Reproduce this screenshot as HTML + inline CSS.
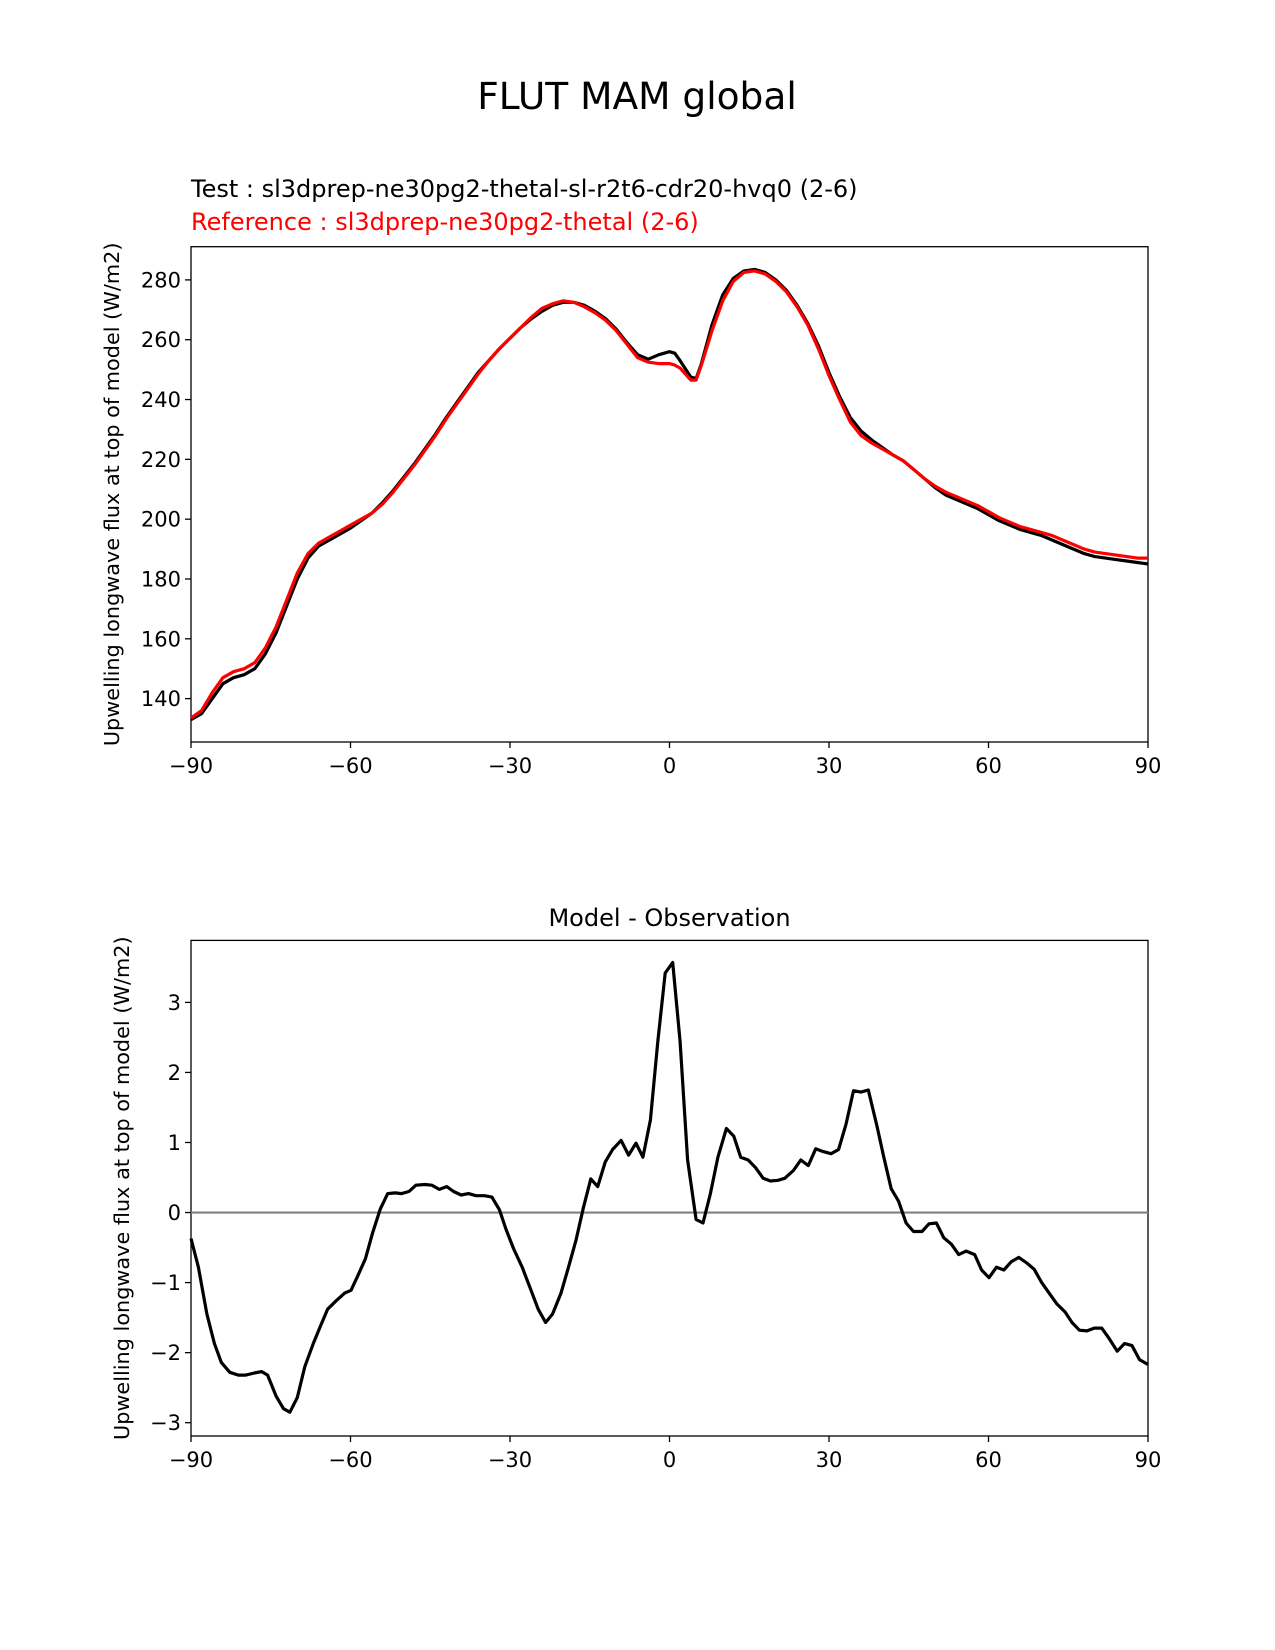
<!DOCTYPE html>
<html><head><meta charset="utf-8"><style>
body{margin:0;background:#fff;}
svg{display:block;font-family:"DejaVu Sans","Liberation Sans",sans-serif;}
</style></head><body>
<svg id="fig" width="1275" height="1650" viewBox="0 0 1275 1650">
<text x="637" y="109" font-size="37.5" text-anchor="middle">FLUT MAM global</text>
<text x="191" y="197" font-size="24">Test : sl3dprep-ne30pg2-thetal-sl-r2t6-cdr20-hvq0 (2-6)</text>
<text x="191" y="230" font-size="24" fill="#ff0000">Reference : sl3dprep-ne30pg2-thetal (2-6)</text>
<text x="669.5" y="926" font-size="24" text-anchor="middle">Model - Observation</text>
<g id="top"></g>
<g id="bot"></g>
</svg>
<script>
const lonT=[-90,-88,-86,-84,-82,-80,-78,-76,-74,-72,-70,-68,-66,-64,-62,-60,-58,-56,-54,-52,-50,-48,-46,-44,-42,-40,-38,-36,-34,-32,-30,-28,-26,-24,-22,-20,-18,-16,-14,-12,-10,-8,-6,-4,-2,0,1,2,4,5,6,8,10,12,14,16,18,20,22,24,26,28,30,32,34,36,38,40,42,44,46,48,50,52,54,56,58,60,62,64,66,68,70,72,74,76,78,80,82,84,86,88,90];
const testVals=[133,135,140,145,147,148,150,155,162,171,180,187,191,193,195,197,199.5,202,205.5,209.5,214,218.5,223.5,228.5,234,239,244,249,253,257,260.5,264,267,269.5,271.5,272.5,272.5,271.5,269.5,267,263.5,259,255,253.5,255,256,255.5,253,247.5,247,252,265,275,280.5,283,283.5,282.5,280,276.5,271.5,265.5,258,249,241,234,229.5,226.5,224,221.5,219.5,216.5,213.5,210.5,208,206.5,205,203.5,201.5,199.5,198,196.5,195.5,194.5,193,191.5,190,188.5,187.5,187,186.5,186,185.5,185];
const refVals=[133.5,136,142,147,149,150,152,157,164,173,182,188.5,192,194,196,198,200,202,205,209,213.5,218,223,228,233.5,238.5,243.5,248.5,253,257,260.5,264,267.5,270.5,272,273,272.5,271,269,266.5,263,258.5,254,252.5,252,252,251.5,250.5,246.5,246.5,251.5,263,273,279.5,282.5,283,282,279.5,276,271,265,257,248,240,232.5,228,225.5,223.5,221.5,219.5,216.5,213.5,211,209,207.5,206,204.5,202.5,200.5,199,197.5,196.5,195.5,194.5,193,191.5,190,189,188.5,188,187.5,187,187];
const lonD=[-90,-88.6,-87,-85.6,-84.3,-82.7,-81.1,-79.7,-78.1,-76.7,-75.6,-74,-72.6,-71.4,-70,-68.6,-67,-65.7,-64.3,-62.7,-61.1,-59.9,-58.6,-57.2,-55.8,-54.4,-53,-51.6,-50.4,-49,-47.7,-46,-44.7,-43.3,-41.9,-40.6,-39.2,-37.8,-36.4,-34.8,-33.4,-32,-30.7,-29.3,-27.7,-26.3,-24.7,-23.3,-22,-20.4,-19,-17.6,-16.2,-14.8,-13.5,-12.1,-10.7,-9.1,-7.7,-6.3,-5,-3.6,-2.2,-0.8,0.6,2,3.4,5,6.3,7.7,9.1,10.7,12.1,13.4,14.8,16.2,17.6,19,20.4,21.7,23.3,24.7,26.1,27.5,28.9,30.4,31.8,33.2,34.6,36,37.4,39,40.3,41.7,43.1,44.5,45.9,47.5,48.8,50.2,51.6,53,54.4,55.8,57.4,58.7,60.1,61.5,62.9,64.3,65.7,67.2,68.6,70,71.4,72.8,74.4,75.7,77.1,78.5,79.9,81.3,82.7,84.2,85.6,87,88.4,90];
const diffVals=[-0.37,-0.78,-1.45,-1.87,-2.14,-2.28,-2.32,-2.32,-2.29,-2.27,-2.32,-2.62,-2.8,-2.85,-2.64,-2.2,-1.87,-1.63,-1.38,-1.26,-1.15,-1.11,-0.9,-0.66,-0.28,0.05,0.27,0.28,0.27,0.3,0.39,0.4,0.39,0.33,0.37,0.3,0.25,0.27,0.24,0.24,0.22,0.04,-0.25,-0.52,-0.78,-1.06,-1.38,-1.57,-1.45,-1.15,-0.78,-0.4,0.07,0.48,0.37,0.72,0.9,1.03,0.82,0.99,0.79,1.32,2.44,3.42,3.57,2.44,0.75,-0.1,-0.15,0.27,0.79,1.2,1.09,0.79,0.75,0.64,0.49,0.45,0.46,0.49,0.6,0.75,0.67,0.91,0.87,0.84,0.9,1.26,1.74,1.72,1.75,1.24,0.79,0.34,0.16,-0.15,-0.27,-0.27,-0.16,-0.15,-0.36,-0.45,-0.6,-0.55,-0.6,-0.82,-0.93,-0.78,-0.82,-0.7,-0.64,-0.72,-0.81,-1.0,-1.15,-1.3,-1.42,-1.57,-1.68,-1.69,-1.65,-1.65,-1.8,-1.98,-1.87,-1.9,-2.1,-2.17];
const xTicks=[-90,-60,-30,0,30,60,90];
const xTickLabels=["\u221290","\u221260","\u221230","0","30","60","90"];
const topTicks=[140,160,180,200,220,240,260,280];
const botTicks=[-3,-2,-1,0,1,2,3];
const botTickLabels=["\u22123","\u22122","\u22121","0","1","2","3"];

const NS="http://www.w3.org/2000/svg";
const X0=191,X1=1148;
function xs(l){return X0+(l+90)/180*(X1-X0);}
function mk(p,tag,at){const e=document.createElementNS(NS,tag);for(const k in at)e.setAttribute(k,at[k]);p.appendChild(e);return e;}
function panel(g,top,bot,vmin,vmax,yt,ytl,name,ylx){
  const ys=v=>bot-(v-vmin)/(vmax-vmin)*(bot-top);
  const frame=mk(g,'rect',{x:X0,y:top,width:X1-X0,height:bot-top,fill:'none',stroke:'#000','stroke-width':1.3});
  
  
  xTicks.forEach((t,i)=>{const x=xs(t);
    const l=mk(g,'line',{x1:x,x2:x,y1:bot,y2:bot+6,stroke:'#000','stroke-width':1.3});
    
    
    const tx=mk(g,'text',{x:x,y:bot+31,'font-size':21,'text-anchor':'middle'});tx.textContent=xTickLabels[i];
    
    });
  yt.forEach((t,i)=>{const y=ys(t);
    const l=mk(g,'line',{x1:X0-6,x2:X0,y1:y,y2:y,stroke:'#000','stroke-width':1.3});
    
    
    const tx=mk(g,'text',{x:X0-10,y:y+7.5,'font-size':21,'text-anchor':'end'});tx.textContent=ytl[i];
    
    });
  const yl=mk(g,'text',{x:0,y:0,'font-size':20.8,'text-anchor':'middle',transform:`translate(${ylx},${(top+bot)/2}) rotate(-90)`});
  yl.textContent='Upwelling longwave flux at top of model (W/m2)';
  
  
  return ys;
}
function line(g,xsArr,vals,ys,col,w,name){
  const d=xsArr.map((l,i)=>(i?'L':'M')+xs(l).toFixed(1)+','+ys(vals[i]).toFixed(1)).join('');
  const p=mk(g,'path',{d:d,fill:'none',stroke:col,'stroke-width':w,'stroke-linejoin':'round'});
  
  
}
const gt=document.getElementById('top');
const ysT=panel(gt,246.7,742,125.5,291.1,topTicks,topTicks.map(String),'top',119);
line(gt,lonT,testVals,ysT,'#000',3.2,'test-line');
line(gt,lonT,refVals,ysT,'#ff0000',3.2,'reference-line');
const gb=document.getElementById('bot');
const ysB=panel(gb,940.4,1436,-3.19,3.885,botTicks,botTickLabels,'bottom',129);
const z=mk(gb,'line',{x1:X0,x2:X1,y1:ysB(0),y2:ysB(0),stroke:'#808080','stroke-width':2.2});


line(gb,lonD,diffVals,ysB,'#000',3.2,'difference-line');
</script>
</body></html>
